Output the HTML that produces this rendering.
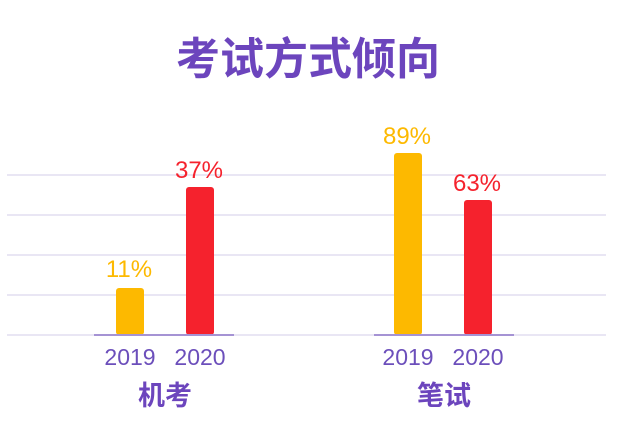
<!DOCTYPE html>
<html><head><meta charset="utf-8"><style>
body{margin:0;width:628px;height:436px;background:#fff;overflow:hidden}
</style></head><body>
<svg width="628" height="436" xmlns="http://www.w3.org/2000/svg" font-family="Liberation Sans, Noto Sans CJK SC, sans-serif">
<text x="308" y="74" text-anchor="middle" font-size="44" font-weight="bold" fill="#6c45bd" font-family="Noto Sans CJK SC, sans-serif">考试方式倾向</text>
<g stroke="#e2def0" stroke-width="1.5">
<line x1="7" y1="175" x2="606" y2="175"/>
<line x1="7" y1="215" x2="606" y2="215"/>
<line x1="7" y1="255" x2="606" y2="255"/>
<line x1="7" y1="295" x2="606" y2="295"/>
<line x1="7" y1="335" x2="606" y2="335"/>
</g>
<rect x="116" y="288" width="28" height="47" rx="3" fill="#fdb900"/>
<rect x="186" y="187" width="28" height="148" rx="3" fill="#f5222d"/>
<rect x="394" y="153" width="28" height="182" rx="3" fill="#fdb900"/>
<rect x="464" y="200" width="28" height="135" rx="3" fill="#f5222d"/>
<line x1="94" y1="335" x2="234" y2="335" stroke="#a593d4" stroke-width="2"/>
<line x1="374" y1="335" x2="514" y2="335" stroke="#a593d4" stroke-width="2"/>
<g font-size="24" text-anchor="middle">
<text x="129" y="277" fill="#fdb900">11%</text>
<text x="199" y="178" fill="#f5222d">37%</text>
<text x="407" y="144" fill="#fdb900">89%</text>
<text x="477" y="191" fill="#f5222d">63%</text>
</g>
<g font-size="23" text-anchor="middle" fill="#6c4fbb">
<text x="130" y="365">2019</text>
<text x="200" y="365">2020</text>
<text x="408" y="365">2019</text>
<text x="478" y="365">2020</text>
</g>
<g font-size="27" font-weight="bold" text-anchor="middle" fill="#6c45bd" font-family="Noto Sans CJK SC, sans-serif">
<text x="165" y="405">机考</text>
<text x="444" y="405">笔试</text>
</g>
</svg>
</body></html>
